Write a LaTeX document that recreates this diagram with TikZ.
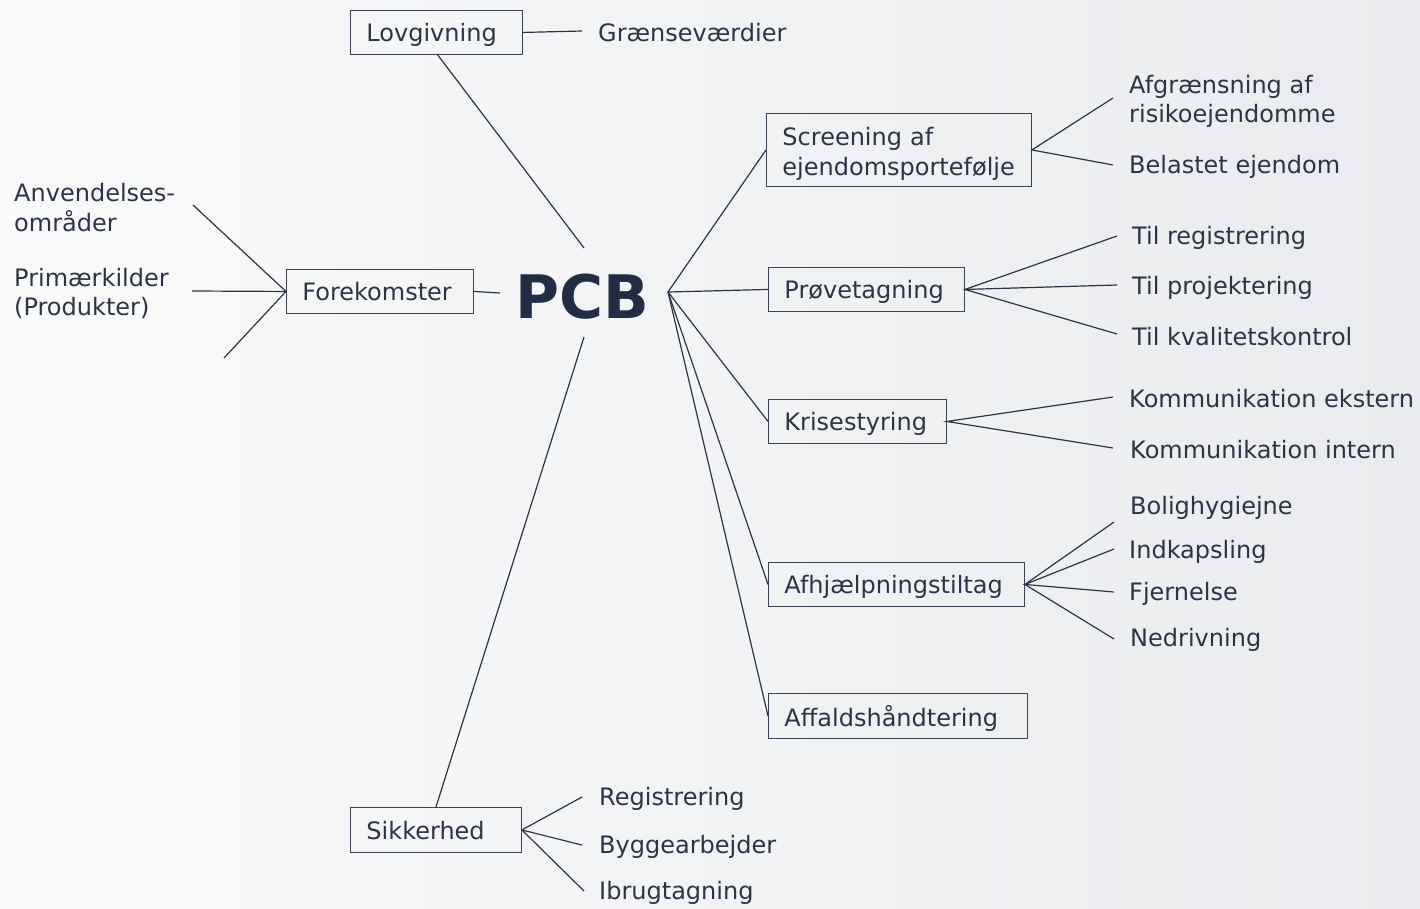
\documentclass[tikz,border=0pt]{standalone}
\usepackage{fontspec}
\setmainfont{DejaVu Sans}
\definecolor{ink}{HTML}{2B3447}
\definecolor{pcbc}{HTML}{222D45}
\definecolor{boxline}{HTML}{3A4356}
\definecolor{bgl}{HTML}{FAFAFA}
\definecolor{bgr}{HTML}{E9EBEE}
\begin{document}
\begin{tikzpicture}[x=1pt,y=-1pt,
  every node/.style={text=ink,font=\fontsize{24}{29.5}\selectfont},
  box/.style={draw=boxline,line width=0.9pt,inner xsep=16pt,inner ysep=0pt,minimum height=44pt,text depth=0pt,align=left,anchor=north west},
  leaf/.style={anchor=west,inner sep=0pt,align=left,yshift=-1.5pt},
  conn/.style={draw=ink,line width=1.2pt}]
\shade[left color=bgl,right color=bgr] (0,0) rectangle (1420,908);
\useasboundingbox (0,0) rectangle (1420,908);

\node[text=pcbc,font=\fontsize{60}{60}\bfseries\selectfont] (pcb) at (582,297) {PCB};
\coordinate (pcbR) at (668,292);
\coordinate (pcbT) at (584,248);
\coordinate (pcbB) at (584,337);
\coordinate (pcbL) at (500,293);

% boxes
\node[box,text width=140pt] (lov) at (350,10) {Lovgivning};
\node[box,text width=155pt] (fore) at (286,269) {Forekomster};
\node[box,text width=233pt,minimum height=73pt,text depth=27pt] (scr) at (766,113) {Screening af\\ejendomsportefølje};
\node[box,text width=164pt] (prov) at (768,267) {Prøvetagning};
\node[box,text width=146pt] (kris) at (768,399) {Krisestyring};
\node[box,text width=224pt] (afh) at (768,562) {Afhjælpningstiltag};
\node[box,text width=227pt,minimum height=45pt] (aff) at (768,693) {Affaldshåndtering};
\node[box,text width=139pt,minimum height=45pt] (sik) at (350,807) {Sikkerhed};

% leaves
\node[leaf] (gr) at (598,31) {Grænseværdier};
\node[leaf] (anv) at (14,206) {Anvendelses-\\områder};
\node[leaf] (prim) at (14,292) {Primærkilder\\(Produkter)};
\node[leaf] (afg) at (1129,100) {Afgrænsning af\\risikoejendomme};
\node[leaf] (bel) at (1129,165) {Belastet ejendom};
\node[leaf] (treg) at (1132,236) {Til registrering};
\node[leaf] (tproj) at (1132,286) {Til projektering};
\node[leaf] (tkval) at (1132,335) {Til kvalitetskontrol};
\node[leaf] (kext) at (1129,397) {Kommunikation ekstern};
\node[leaf] (kint) at (1130,448) {Kommunikation intern};
\node[leaf] (bol) at (1130,506) {Bolighygiejne};
\node[leaf] (ind) at (1129,550) {Indkapsling};
\node[leaf] (fje) at (1129,592) {Fjernelse};
\node[leaf] (ned) at (1130,638) {Nedrivning};
\node[leaf] (reg) at (599,797) {Registrering};
\node[leaf] (byg) at (599,845) {Byggearbejder};
\node[leaf] (ibr) at (599,891) {Ibrugtagning};

% free ends
\coordinate (grE) at (582,31);
\coordinate (f1) at (193,205);
\coordinate (f2) at (192,291);
\coordinate (f3) at (224,358);
\coordinate (s1) at (1113,98);
\coordinate (s2) at (1113,165);
\coordinate (p1) at (1117,236);
\coordinate (p2) at (1117,285);
\coordinate (p3) at (1117,334);
\coordinate (k1) at (1113,397);
\coordinate (k2) at (1113,448);
\coordinate (a1) at (1114,522);
\coordinate (a2) at (1114,549);
\coordinate (a3) at (1114,592);
\coordinate (a4) at (1114,639);
\coordinate (r1) at (582,797);
\coordinate (r2) at (582,845);
\coordinate (r3) at (584,891);

% connectors
\draw[conn] (lov.east) -- (grE);
\draw[conn] (437,54) -- (pcbT);
\draw[conn] (fore.east) -- (pcbL);
\draw[conn] (f1) -- (fore.west) -- (f3);
\draw[conn] (f2) -- (fore.west);
\draw[conn] (pcbR) -- (scr.west);
\draw[conn] (pcbR) -- (prov.west);
\draw[conn] (pcbR) -- (kris.west);
\draw[conn] (pcbR) -- (afh.west);
\draw[conn] (pcbR) -- (aff.west);
\draw[conn] (pcbB) -- (sik.north);
\draw[conn] (s1) -- (scr.east) -- (s2);
\draw[conn] (p1) -- (prov.east) -- (p3);
\draw[conn] (prov.east) -- (p2);
\draw[conn] (k1) -- (kris.east) -- (k2);
\draw[conn] (a1) -- (afh.east) -- (a4);
\draw[conn] (a2) -- (afh.east) -- (a3);
\draw[conn] (r1) -- (sik.east) -- (r3);
\draw[conn] (sik.east) -- (r2);
\end{tikzpicture}
\end{document}
